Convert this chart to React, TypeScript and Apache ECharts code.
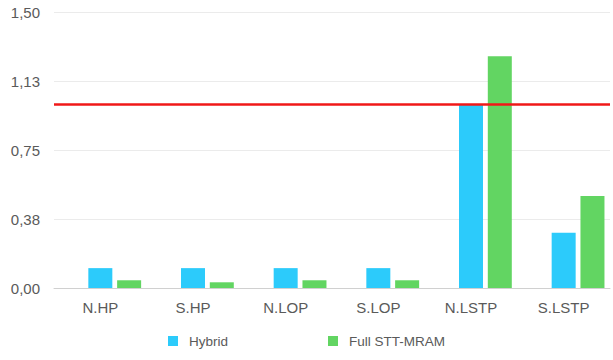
import React, { useEffect, useRef } from "react";
import * as echarts from "echarts";

const categories = ["N.HP", "S.HP", "N.LOP", "S.LOP", "N.LSTP", "S.LSTP"];
const hybrid = [0.108, 0.108, 0.108, 0.108, 1.0, 0.3];
const fullSTT = [0.042, 0.031, 0.042, 0.042, 1.26, 0.5];
const placeholder = ["-", "-", "-", "-", "-", "-"];
const thresholdValue = 1.0;
const seriesNames = ["Hybrid", "Full STT-MRAM"];

export default function App() {
  const ref = useRef<HTMLDivElement>(null);
  useEffect(() => {
    if (!ref.current) return;
    const chart = echarts.init(ref.current, undefined, { renderer: "svg" });
    const font = "'Liberation Sans', Arial, Helvetica, sans-serif";
    chart.setOption({
      animation: false,
      textStyle: { fontFamily: font },
      grid: { left: 54, right: 3, top: 12, bottom: 72, containLabel: false },
      legend: {
        data: seriesNames,
        top: 329,
        left: "center",
        icon: "rect",
        itemWidth: 10,
        itemHeight: 10,
        itemGap: 100,
        textStyle: { fontSize: 13.5, color: "#5a5a5a", fontFamily: font, padding: [0, 0, 0, 6] },
      },
      xAxis: {
        type: "category",
        data: categories,
        axisTick: { show: false },
        axisLine: { lineStyle: { color: "#d0d0d0", width: 1 } },
        axisLabel: { fontSize: 15, color: "#5a5a5a", margin: 12, fontFamily: font },
      },
      yAxis: {
        type: "value",
        min: 0,
        max: 1.5,
        interval: 0.375,
        axisLine: { show: false },
        axisTick: { show: false },
        splitLine: { lineStyle: { color: "#ebebeb", width: 1 } },
        axisLabel: {
          fontSize: 15,
          color: "#5a5a5a",
          margin: 14,
          fontFamily: font,
          formatter: (v: number) => v.toFixed(2).replace(".", ","),
        },
      },
      series: [
        {
          name: "_placeholder",
          type: "bar",
          data: placeholder,
          barWidth: 24,
          barGap: "20%",
          itemStyle: { color: "transparent" },
          silent: true,
        },
        {
          name: seriesNames[0],
          type: "bar",
          data: hybrid,
          barWidth: 24,
          barGap: "20%",
          itemStyle: { color: "#2CCBFB" },
          markLine: {
            silent: true,
            symbol: "none",
            label: { show: false },
            lineStyle: { color: "#F01818", width: 2.5, type: "solid" },
            data: [{ yAxis: thresholdValue }],
          },
        },
        {
          name: seriesNames[1],
          type: "bar",
          data: fullSTT,
          barWidth: 24,
          barGap: "20%",
          itemStyle: { color: "#62D562" },
        },
      ],
    });
    return () => chart.dispose();
  }, []);
  return <div ref={ref} style={{ width: 613, height: 360, position: "absolute", left: 0, top: 0 }} />;
}
